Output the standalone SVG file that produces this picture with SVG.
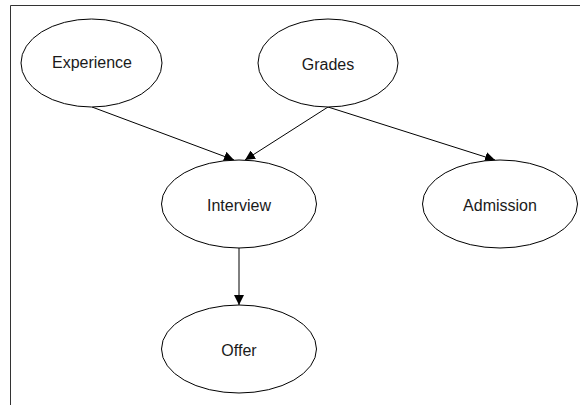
<svg xmlns="http://www.w3.org/2000/svg" width="580" height="405" viewBox="0 0 580 405">
<style>
.node ellipse{fill:#fff;stroke:#000;stroke-width:1}
.node text{font-family:"Liberation Sans",Arial,sans-serif;font-size:16px;fill:#1a1a1a;text-anchor:middle;dominant-baseline:central}
.edge{stroke:#000;stroke-width:1;fill:none;marker-end:url(#ah)}
</style>
<defs>
<marker id="ah" viewBox="0 0 10 10" refX="10" refY="5" markerWidth="10" markerHeight="10" markerUnits="userSpaceOnUse" orient="auto">
<path d="M0,0 L10,5 L0,10 z" fill="#000"/>
</marker>
</defs>
<rect width="580" height="405" fill="#fff"/>
<path d="M10.5,405 V5.5 H580" fill="none" stroke="#333" stroke-width="1"/>
<g id="connectors">
<line class="edge" x1="92" y1="107" x2="234" y2="160"/>
<line class="edge" x1="328" y1="107" x2="245" y2="160"/>
<line class="edge" x1="328" y1="107" x2="495" y2="160"/>
<line class="edge" x1="239" y1="248" x2="239" y2="305"/>
</g>
<g id="experience" class="node"><ellipse cx="91.5" cy="63" rx="70.5" ry="44"/><text x="92" y="62">Experience</text></g>
<g id="grades" class="node"><ellipse cx="328" cy="63" rx="70" ry="44"/><text x="328" y="64">Grades</text></g>
<g id="interview" class="node"><ellipse cx="239" cy="204" rx="77.5" ry="44"/><text x="239" y="205">Interview</text></g>
<g id="admission" class="node"><ellipse cx="500" cy="204" rx="77.5" ry="44"/><text x="500" y="205">Admission</text></g>
<g id="offer" class="node"><ellipse cx="239" cy="349" rx="77.5" ry="44"/><text x="239" y="350">Offer</text></g>
</svg>
